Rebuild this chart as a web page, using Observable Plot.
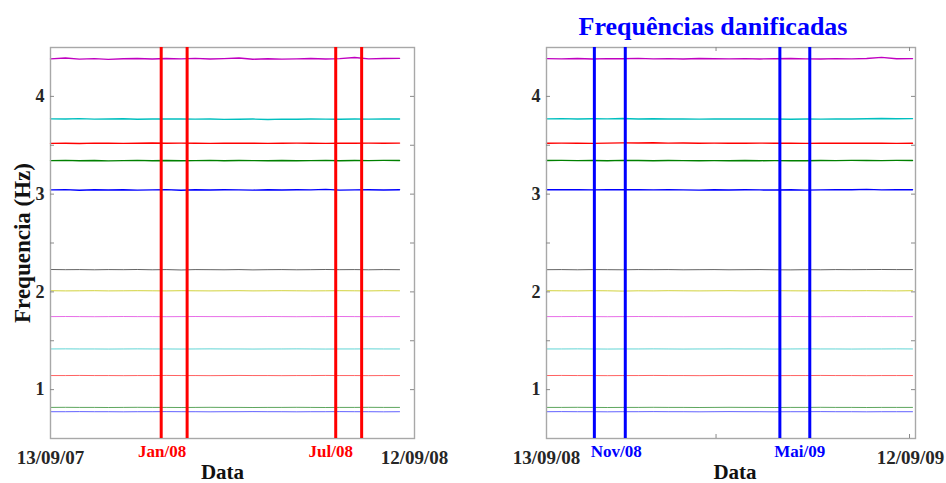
<!DOCTYPE html>
<html><head><meta charset="utf-8">
<script src="https://cdn.jsdelivr.net/npm/d3@7"></script>
<script src="https://cdn.jsdelivr.net/npm/@observablehq/plot@0.6"></script>
<style>
body{margin:0;background:#fff;}
#wrap{display:flex;width:946px;height:483px;}
svg{display:block;}
</style>
</head><body><div id="wrap"></div>
<script>
// ---------- data ----------
const leftDates = ["2007-09-13","2007-09-28","2007-10-12","2007-10-27","2007-11-10","2007-11-25","2007-12-09","2007-12-24","2008-01-07","2008-01-22","2008-02-05","2008-02-20","2008-03-05","2008-03-20","2008-04-03","2008-04-18","2008-05-02","2008-05-17","2008-05-31","2008-06-15","2008-06-29","2008-07-14","2008-07-28","2008-08-12","2008-08-28"];
const rightDates = ["2008-09-13","2008-09-28","2008-10-14","2008-10-29","2008-11-13","2008-11-28","2008-12-14","2008-12-29","2009-01-13","2009-01-28","2009-02-13","2009-02-28","2009-03-15","2009-03-31","2009-04-15","2009-04-30","2009-05-16","2009-05-31","2009-06-15","2009-06-30","2009-07-16","2009-07-31","2009-08-15","2009-08-30","2009-09-15"];

const seriesNames = ["f12","f11","f10","f9","f8","f7","f6","f5","f4","f3","f2","f1"];
const seriesColors = ["#c000c0","#00bfbf","#ff0000","#008000","#0000ff","#333333","#c4c400","#e040e0","#30c8c8","#ff3030","#2a8a2a","#3030ff"];

const L_m1 = [4.384,4.392,4.381,4.386,4.379,4.385,4.388,4.382,4.387,4.384,4.389,4.383,4.386,4.392,4.380,4.385,4.381,4.384,4.387,4.383,4.386,4.398,4.384,4.388,4.389];
const L_c1 = [3.770,3.768,3.772,3.767,3.769,3.771,3.766,3.769,3.768,3.770,3.767,3.769,3.765,3.766,3.768,3.764,3.767,3.766,3.769,3.767,3.766,3.768,3.767,3.770,3.769];
const L_r1 = [3.519,3.521,3.518,3.522,3.520,3.519,3.521,3.523,3.520,3.522,3.521,3.519,3.522,3.520,3.521,3.519,3.520,3.522,3.521,3.519,3.521,3.520,3.522,3.521,3.522];
const L_g1 = [3.343,3.345,3.342,3.344,3.340,3.343,3.345,3.342,3.344,3.341,3.343,3.345,3.342,3.344,3.343,3.341,3.344,3.342,3.343,3.345,3.342,3.344,3.343,3.345,3.344];
const L_b1 = [3.043,3.046,3.040,3.044,3.042,3.045,3.041,3.043,3.046,3.039,3.044,3.042,3.045,3.043,3.041,3.044,3.042,3.045,3.043,3.049,3.041,3.043,3.044,3.042,3.044];
const L_k  = [2.229,2.227,2.228,2.226,2.228,2.227,2.229,2.226,2.228,2.224,2.228,2.227,2.226,2.228,2.225,2.227,2.228,2.226,2.227,2.229,2.227,2.228,2.226,2.228,2.227];
const L_y  = [2.012,2.010,2.011,2.012,2.010,2.011,2.012,2.011,2.010,2.012,2.011,2.010,2.011,2.012,2.010,2.011,2.012,2.011,2.010,2.011,2.012,2.011,2.010,2.012,2.011];
const L_m2 = [1.747,1.748,1.747,1.746,1.747,1.748,1.747,1.747,1.746,1.747,1.748,1.747,1.747,1.746,1.747,1.748,1.747,1.746,1.747,1.747,1.748,1.747,1.746,1.747,1.747];
const L_c2 = [1.416,1.417,1.416,1.416,1.415,1.416,1.417,1.416,1.416,1.415,1.416,1.417,1.416,1.416,1.415,1.416,1.416,1.417,1.416,1.415,1.416,1.416,1.417,1.416,1.416];
const L_r2 = [1.144,1.144,1.145,1.144,1.144,1.143,1.144,1.144,1.145,1.144,1.144,1.143,1.144,1.145,1.144,1.144,1.143,1.144,1.144,1.145,1.144,1.144,1.143,1.144,1.144];
const L_g2 = [0.818,0.819,0.818,0.818,0.817,0.818,0.819,0.818,0.818,0.817,0.818,0.819,0.818,0.818,0.817,0.818,0.818,0.819,0.818,0.817,0.818,0.818,0.819,0.818,0.818];
const L_b2 = [0.774,0.774,0.775,0.774,0.774,0.773,0.774,0.774,0.775,0.774,0.774,0.773,0.774,0.774,0.775,0.774,0.774,0.773,0.774,0.774,0.775,0.774,0.774,0.773,0.774];

const R_m1 = [4.386,4.384,4.388,4.383,4.386,4.385,4.389,4.384,4.386,4.383,4.387,4.385,4.384,4.386,4.383,4.385,4.388,4.384,4.382,4.386,4.384,4.387,4.399,4.385,4.386];
const R_c1 = [3.770,3.772,3.769,3.771,3.770,3.773,3.768,3.771,3.769,3.770,3.767,3.769,3.768,3.770,3.768,3.769,3.766,3.768,3.767,3.770,3.769,3.771,3.774,3.771,3.772];
const R_r1 = [3.520,3.522,3.521,3.519,3.522,3.524,3.523,3.525,3.522,3.523,3.521,3.522,3.520,3.521,3.522,3.520,3.521,3.519,3.521,3.520,3.522,3.520,3.521,3.519,3.521];
const R_g1 = [3.344,3.345,3.343,3.344,3.342,3.345,3.344,3.342,3.344,3.343,3.341,3.343,3.342,3.344,3.342,3.343,3.341,3.342,3.344,3.343,3.345,3.344,3.343,3.345,3.344];
const R_b1 = [3.045,3.044,3.046,3.043,3.045,3.044,3.046,3.043,3.045,3.043,3.041,3.044,3.042,3.044,3.043,3.042,3.044,3.041,3.043,3.045,3.044,3.049,3.043,3.044,3.045];
const R_k  = [2.227,2.228,2.226,2.228,2.227,2.226,2.228,2.227,2.228,2.226,2.227,2.228,2.226,2.227,2.228,2.226,2.225,2.227,2.226,2.228,2.227,2.228,2.229,2.228,2.228];
const R_y  = [2.012,2.011,2.010,2.012,2.011,2.008,2.011,2.010,2.012,2.011,2.010,2.011,2.012,2.010,2.011,2.012,2.011,2.010,2.011,2.012,2.011,2.012,2.011,2.010,2.012];
const R_m2 = [1.747,1.747,1.748,1.747,1.746,1.747,1.748,1.747,1.747,1.746,1.747,1.748,1.747,1.746,1.747,1.747,1.748,1.747,1.746,1.747,1.747,1.748,1.747,1.747,1.747];
const R_c2 = [1.416,1.416,1.417,1.416,1.415,1.416,1.416,1.417,1.416,1.415,1.416,1.416,1.417,1.416,1.416,1.415,1.416,1.417,1.416,1.416,1.415,1.416,1.416,1.417,1.416];
const R_r2 = [1.144,1.145,1.144,1.144,1.143,1.144,1.144,1.145,1.144,1.144,1.143,1.144,1.145,1.144,1.144,1.143,1.144,1.144,1.145,1.144,1.144,1.143,1.144,1.144,1.144];
const R_g2 = [0.818,0.818,0.819,0.818,0.817,0.818,0.818,0.819,0.818,0.818,0.817,0.818,0.819,0.818,0.818,0.817,0.818,0.818,0.819,0.818,0.818,0.817,0.818,0.818,0.818];
const R_b2 = [0.774,0.775,0.774,0.774,0.773,0.774,0.774,0.775,0.774,0.774,0.773,0.774,0.775,0.774,0.774,0.773,0.774,0.774,0.775,0.774,0.774,0.773,0.774,0.774,0.774];

const leftSeries  = [L_m1,L_c1,L_r1,L_g1,L_b1,L_k,L_y,L_m2,L_c2,L_r2,L_g2,L_b2];
const rightSeries = [R_m1,R_c1,R_r1,R_g1,R_b1,R_k,R_y,R_m2,R_c2,R_r2,R_g2,R_b2];

const leftDomain  = ["2007-09-13","2008-09-12"];
const rightDomain = ["2008-09-13","2009-09-18"];

const leftEvents  = ["2008-01-02","2008-01-28","2008-06-25","2008-07-21"];
const rightEvents = ["2008-10-31","2008-12-01","2009-05-05","2009-06-04"];

const leftEndLabelDates  = ["2007-09-13","2008-09-12"];
const leftEndLabels      = ["13/09/07","12/09/08"];
const rightEndLabelDates = ["2008-09-13","2009-09-13"];
const rightEndLabels     = ["13/09/08","12/09/09"];

const leftEventLabelDates  = ["2008-01-03","2008-06-20"];
const leftEventLabels      = ["Jan/08","Jul/08"];
const rightEventLabelDates = ["2008-11-22","2009-05-25"];
const rightEventLabels     = ["Nov/08","Mai/09"];

const leftXTicks  = ["2008-01-02","2008-01-28","2008-06-25","2008-07-21"];
const rightXTicks = ["2009-03-02","2009-09-12"];

const yLabelTicks = [1,2,3,4];
const yMinorTicks = [1,1.5,2,2.5,3,3.5,4];
const yDomain = [0.5,4.5];

const yTitle = "Frequencia (Hz)";
const xTitle = "Data";
const rightTitle = "Frequências danificadas";

// ---------- drawing ----------
const P = d => new Date(d + "T00:00:00Z");
const FONT = "'Liberation Serif','Times New Roman',serif";
const W = 473, H = 483, MT = 47, MB = 45;

function panel(o) {
  const pw = W - o.mL - o.mR, ph = H - MT - MB;
  const dates = o.dates.map(P);
  const marks = [];
  o.series.forEach((vals, i) => {
    const rows = vals.map((v, j) => ({date: dates[j], value: v}));
    const upper = i < 5;
    marks.push(Plot.line(rows, {x: "date", y: "value", stroke: seriesColors[i],
      strokeWidth: upper ? 1.4 : 0.9, strokeOpacity: upper ? 1 : 0.85}));
  });
  marks.push(Plot.frame({stroke: "#a8a8a8", strokeWidth: 1.4}));
  marks.push(Plot.tickY(yMinorTicks, {y: d => d, stroke: "#8a8a8a", insetRight: pw - 4}));
  marks.push(Plot.tickY(yMinorTicks, {y: d => d, stroke: "#8a8a8a", insetLeft: pw - 4}));
  marks.push(Plot.tickX(o.xTicks.map(P), {x: d => d, stroke: "#8a8a8a", insetBottom: ph - 4}));
  marks.push(Plot.tickX(o.xTicks.map(P), {x: d => d, stroke: "#8a8a8a", insetTop: ph - 4}));
  marks.push(Plot.ruleX(o.events.map(P), {x: d => d, stroke: o.eventColor, strokeWidth: 3}));
  // y tick labels
  marks.push(Plot.text(yLabelTicks, {y: d => d, text: d => String(d), frameAnchor: "left", dx: -6,
    textAnchor: "end", lineAnchor: "middle", fontSize: 18, fontWeight: "bold", fill: "#262626"}));
  // x end labels
  marks.push(Plot.text(o.endLabelDates.map((d, i) => ({date: P(d), t: o.endLabels[i]})),
    {x: "date", text: "t", frameAnchor: "bottom", lineAnchor: "middle", textAnchor: "middle", dy: 19,
     fontSize: 19, fontWeight: "bold", fill: "#262626"}));
  // event labels
  marks.push(Plot.text(o.eventLabelDates.map((d, i) => ({date: P(d), t: o.eventLabels[i]})),
    {x: "date", text: "t", frameAnchor: "bottom", lineAnchor: "middle", textAnchor: "middle", dy: 13,
     fontSize: 17, fontWeight: "bold", fill: o.eventColor}));
  // x title
  marks.push(Plot.text([xTitle], {text: d => d, frameAnchor: "bottom", lineAnchor: "middle", textAnchor: "middle",
    dy: 34, dx: o.xTitleDx, fontSize: 21, fontWeight: "bold", fill: "#111"}));
  if (o.yTitle) marks.push(Plot.text([o.yTitle], {text: d => d, frameAnchor: "left", textAnchor: "middle",
    lineAnchor: "middle", dx: -28, rotate: -90, fontSize: 23, fontWeight: "bold", fill: "#111"}));
  if (o.title) marks.push(Plot.text([o.title], {text: d => d, frameAnchor: "top", lineAnchor: "middle",
    textAnchor: "middle", dy: -21, dx: -18, fontSize: 26, fontWeight: "bold", fill: "#0000ff"}));
  return Plot.plot({
    width: W, height: H, marginLeft: o.mL, marginRight: o.mR, marginTop: MT, marginBottom: MB,
    style: {fontFamily: FONT, background: "#fff", overflow: "visible"},
    x: {type: "utc", domain: o.domain.map(P), axis: null},
    y: {domain: yDomain, axis: null},
    marks
  });
}

const wrap = document.getElementById("wrap");
wrap.appendChild(panel({dates: leftDates, series: leftSeries, domain: leftDomain, mL: 50, mR: 59,
  events: leftEvents, eventColor: "#ff0000", endLabelDates: leftEndLabelDates, endLabels: leftEndLabels,
  eventLabelDates: leftEventLabelDates, eventLabels: leftEventLabels, xTicks: leftXTicks,
  xTitleDx: -10, yTitle: yTitle}));
wrap.appendChild(panel({dates: rightDates, series: rightSeries, domain: rightDomain, mL: 73, mR: 31,
  events: rightEvents, eventColor: "#0000ff", endLabelDates: rightEndLabelDates, endLabels: rightEndLabels,
  eventLabelDates: rightEventLabelDates, eventLabels: rightEventLabels, xTicks: rightXTicks,
  xTitleDx: 4, title: rightTitle}));
</script>
</body></html>
